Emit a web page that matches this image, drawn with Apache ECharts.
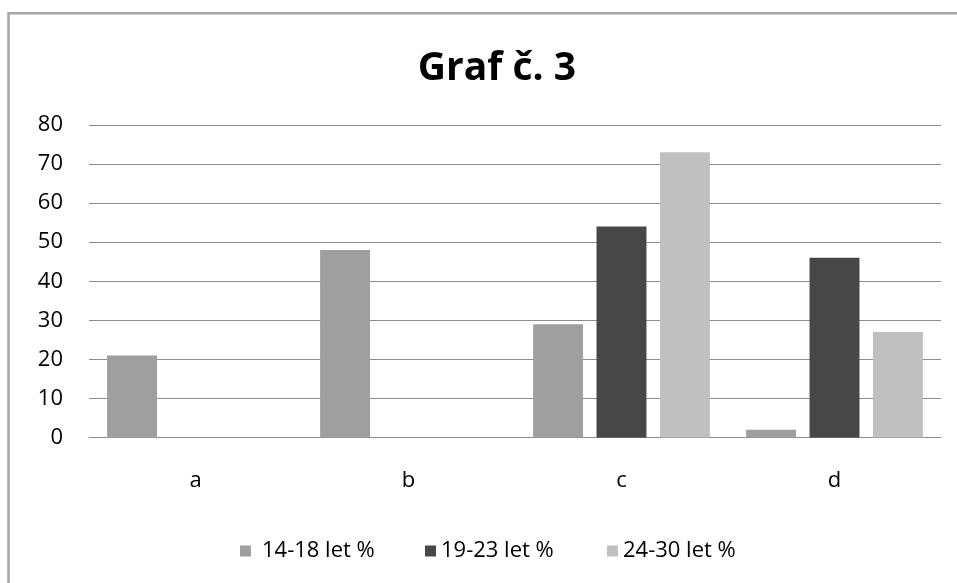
<!DOCTYPE html>
<html>
<head>
<meta charset="utf-8">
<script src="https://cdn.jsdelivr.net/npm/echarts@6/dist/echarts.min.js"></script>
<style>
html,body{margin:0;padding:0;background:#fff;}
#chart{width:957px;height:583px;}
</style>
</head>
<body>
<div id="chart"></div>
<script>
var titleText = 'Graf č. 3';
var categories = ['a', 'b', 'c', 'd'];
var seriesNames = ['14-18 let %', '19-23 let %', '24-30 let %'];
var values1418 = [21, 48, 29, 2];
var values1923 = [null, null, 54, 46];
var values2430 = [null, null, 73, 27];
var yTicks = [0, 10, 20, 30, 40, 50, 60, 70, 80];

var colors = ['#9f9f9f', '#474747', '#c0c0c0'];
var font = '"Open Sans", "Noto Sans", sans-serif';
var chart = echarts.init(document.getElementById('chart'));

function legendAt(i, left, pad) {
  return {
    data: [seriesNames[i]],
    left: left,
    top: 535,
    itemWidth: 11,
    itemHeight: 11,
    icon: 'rect',
    selectedMode: false,
    textStyle: { fontFamily: font, fontSize: 22, color: '#000', padding: [0, 0, 0, pad] }
  };
}

chart.setOption({
  animation: false,
  backgroundColor: '#fff',
  title: {
    text: titleText,
    left: 492,
    textAlign: 'center',
    top: 44,
    textStyle: { fontFamily: font, fontSize: 39, fontWeight: 'bold', color: '#000' }
  },
  legend: [legendAt(0, 235, 6), legendAt(1, 420, 0), legendAt(2, 602, 0)],
  grid: { left: 89, right: 16, top: 125, bottom: 145.5, containLabel: false },
  xAxis: {
    type: 'category',
    data: categories,
    axisTick: { show: false },
    axisLine: { lineStyle: { color: '#8c8c8c', width: 1 } },
    axisLabel: { margin: 32, fontFamily: font, fontSize: 22, color: '#000' }
  },
  yAxis: {
    type: 'value',
    min: yTicks[0],
    max: yTicks[yTicks.length - 1],
    interval: 10,
    axisLine: { show: false },
    axisTick: { show: false },
    splitLine: { lineStyle: { color: '#8c8c8c', width: 1 } },
    axisLabel: { margin: 26, fontFamily: font, fontSize: 22, color: '#000' }
  },
  graphic: [{
    type: 'rect',
    shape: { x: 8.5, y: 13.3, width: 1100, height: 700 },
    style: { fill: 'none', stroke: '#a6a6a6', lineWidth: 2.5 },
    silent: true
  }],
  series: [
    { name: seriesNames[0], type: 'bar', data: values1418, itemStyle: { color: colors[0] }, barGap: '27%', barCategoryGap: '17%' },
    { name: seriesNames[1], type: 'bar', data: values1923, itemStyle: { color: colors[1] }, barGap: '27%', barCategoryGap: '17%' },
    { name: seriesNames[2], type: 'bar', data: values2430, itemStyle: { color: colors[2] }, barGap: '27%', barCategoryGap: '17%' }
  ]
});
</script>
</body>
</html>
